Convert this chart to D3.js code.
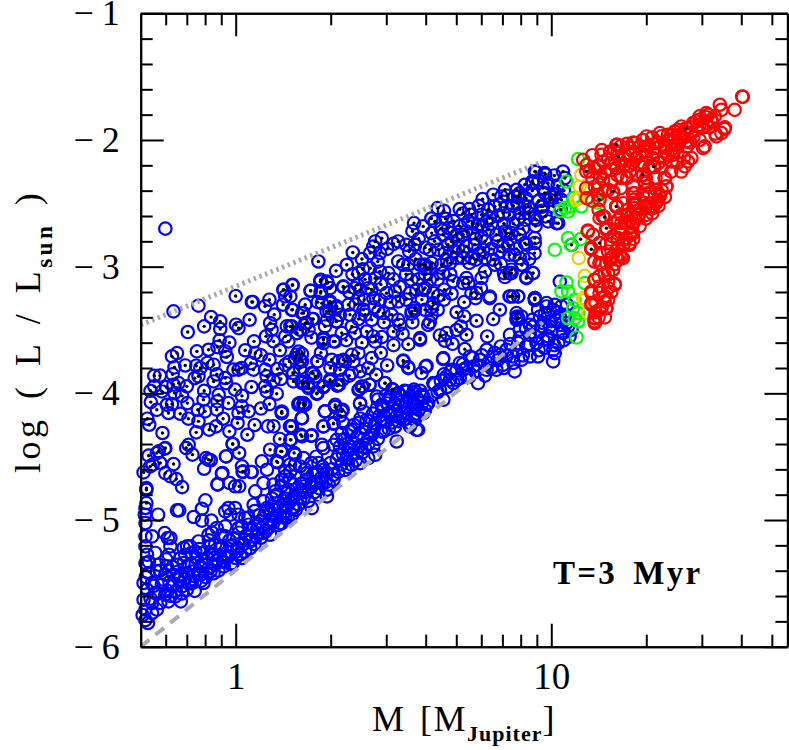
<!DOCTYPE html>
<html>
<head>
<meta charset="utf-8">
<script src="https://cdn.jsdelivr.net/npm/d3@7"></script>
<style>
  html, body { margin: 0; padding: 0; background: #fff; }
  svg { display: block; }
</style>
</head>
<body>
<div id="chart"></div>
<script>
// every point is [log10 M, log10 L]
const blueDotted = [
[0,-3.232],[-.152,-3.516],[-.1,-3.471],[-.078,-3.398],[-.049,-3.432],[-.049,-3.492],[.001,-3.458],[.009,-3.485],[.044,-3.419],[.051,-3.279],[.054,-3.279],[.107,-3.261],[.093,-3.313],[.122,-3.379],[.151,-3.182],[.157,-3.234],[.18,-3.148],[.18,-3.34],[.237,-3.19],[.269,-3.208],[.269,-3.103],[.291,-3.129],
[-.051,-3.582],[-.058,-3.635],[-.033,-3.669],[-.028,-3.713],[-.123,-3.669],[-.086,-3.656],[-.186,-3.682],[-.202,-3.708],[-.194,-3.795],[-.258,-3.861],[-.258,-3.945],[-.234,-3.985],[-.197,-3.932],[-.181,-3.919],[-.155,-3.945],[-.194,-3.998],[-.269,-4.069],[-.218,-4.09],[-.202,-4.085],[-.213,-4.155],[-.176,-4.161],[-.153,-4.077],[-.125,-3.782],[-.112,-3.8],[-.118,-3.866],[-.07,-3.774],[-.07,-3.906],[-.033,-3.879],[-.002,-3.971],[-.007,-3.813],[.009,-3.813],[.019,-3.8],[.056,-3.813],[.048,-3.761],[.062,-3.682],[.058,-3.59],[.093,-3.813],[.098,-3.866],[.093,-3.945],[.098,-3.985],[.107,-3.735],[.13,-4.003],[.132,-3.808],[.143,-3.887],[.109,-3.445],[.114,-3.498],[.096,-3.55],[.12,-3.59],[.162,-3.471],[.178,-3.471],[.167,-3.59],[.193,-3.524],[.215,-3.366],[.243,-3.413],[.225,-3.445],[.278,-3.577],[.31,-3.59],[.288,-3.353],[.299,-3.287],[.32,-3.313],[.341,-3.156],[.318,-3.432],[.336,-3.524],[.304,-3.735],[.341,-3.735],[.327,-3.932],[.299,-3.892],[.181,-3.84],[.204,-3.735],[.193,-3.695],[.215,-3.913],[.23,-3.945],[.246,-3.845],[.259,-3.748],[.278,-3.95],[.259,-3.998],[.215,-4.09],[.199,-4.09],[.146,-4.155],[.107,-4.085],[-.102,-4.05],[-.097,-4.142],[-.054,-4.011],[-.058,-4.063],[-.06,-4.129],[-.023,-4.077],[-.062,-4.261],[-.125,-4.308],[-.084,-4.287],[-.118,-4.221],[.009,-4.155],[.041,-4.142],[.006,-4.234],[.037,-4.327],[.019,-4.103],[-.232,-4.313],[-.274,-4.248],[-.009,-4.4],[.011,-4.471],[.023,-4.616],[-.149,-4.406],[-.157,-4.432],[-.086,-4.524],[-.197,-4.558],[-.239,-4.55],[-.223,-4.63],[-.207,-4.655],[-.188,-4.677],[-.17,-4.74],[-.271,-4.577],[-.244,-4.458],[-.223,-4.432],[-.283,-4.748],[.172,-4.261],[.175,-4.366],[.206,-4.327],[.241,-4.332],[.109,-4.445],[.143,-4.458],[.13,-4.537],[.172,-4.563],[.185,-4.471],
[-.137,-4.484],[-.094,-4.511],[-.079,-4.529],[-.01,-4.4],[.022,-4.621],[.011,-4.734],[.144,-4.458],[.133,-4.545],[-.225,-4.437],[-.25,-4.471],[-.276,-4.492],[-.263,-4.563],[-.292,-4.624],[-.283,-4.761],[-.283,-4.866],
[.146,-4.156],[.199,-4.082],[.215,-4.077],[.178,-4.261],[.21,-4.34],[.239,-4.335],[.173,-4.367],[.278,-4.261],[.31,-4.24],[.331,-4.177],[.339,-4.13],[.315,-4.109],[.257,-4.004],[.278,-3.946],[.322,-3.938],[.231,-3.959],[.21,-3.919],[.183,-3.906],[.392,-3.967],[.403,-3.946],[.424,-3.932],[.473,-3.919],[.496,-3.967],[.394,-4.082],[.146,-4.459],
[.262,-2.959],[.371,-2.888],[.318,-3.033],[.18,-3.143],[.152,-3.183],[.173,-3.235],[.238,-3.19],[.268,-3.117],[.289,-3.117],[.299,-3.17],[.27,-3.196],[.341,-3.162],[.352,-2.985],[.389,-3.051],[.403,-3.02],[.426,-3.012],[.442,-2.801],[.426,-2.893],[.457,-2.893],[.436,-2.841],[.463,-2.775],[.515,-2.801],[.54,-2.827],[.568,-2.827],[.484,-3.051],[.515,-2.959],[.531,-2.985],[.547,-2.985],[.595,-2.985],[.605,-3.012],[.442,-3.091],[.457,-3.038],[.386,-3.143],[.394,-3.183],[.42,-3.17],[.378,-3.17],[.273,-3.288],[.299,-3.275],[.32,-3.327],[.297,-3.354],[.357,-3.301],[.362,-3.38],[.389,-3.248],[.407,-3.262],[.436,-3.248],[.457,-3.262],[.478,-3.209],[.505,-3.196],[.515,-3.275],[.468,-3.367],[.494,-3.38],[.515,-3.42],[.452,-3.354],[.431,-3.42],[.389,-3.414],[.405,-3.341],[.368,-3.472],[.378,-3.525],[.415,-3.512],[.436,-3.551],[.463,-3.556],[.442,-3.591],[.5,-3.512],[.529,-3.53],[.547,-3.612],[.584,-3.577],[.558,-3.354],[.568,-3.327],[.595,-3.183],[.6,-3.341],[.552,-3.209],[.32,-3.433],[.283,-3.472],[.246,-3.414],[.22,-3.446],[.21,-3.367],[.178,-3.341],[.204,-3.498],[.231,-3.498],[.194,-3.525],[.173,-3.472],[.157,-3.551],[.278,-3.564],[.278,-3.604],[.315,-3.591],[.368,-3.696],[.389,-3.683],[.373,-3.748],[.347,-3.748],[.326,-3.748],[.431,-3.722],[.531,-3.741],[.547,-3.793],[.199,-3.67],[.21,-3.688],[.188,-3.722],[.21,-3.748],[.157,-3.775],[.183,-3.84],[.204,-3.801],[.259,-3.748],[.241,-3.84],[.252,-3.867],[.21,-3.906],[.229,-3.92],[.299,-3.906],[.322,-3.938],[.338,-3.893],[.278,-3.946],[.257,-3.998],[.331,-3.814],[.394,-3.827],[.445,-3.854],[.389,-3.972],[.399,-3.946],[.424,-3.932],[.473,-3.92],[.498,-3.972],[.394,-4.077],[.204,-4.077],[.22,-4.091],[.146,-4.143],[.315,-4.091],[.336,-4.143],[.31,-4.235],[.278,-4.261],
[.64,-2.538],[.71,-2.546],[.665,-2.622],[.631,-2.643],[.594,-2.682],[.565,-2.656],[.621,-2.735],[.568,-2.827],[.615,-2.867],[.642,-2.867],[.673,-2.696],[.679,-2.735],[.657,-2.748],[.684,-2.801],[.663,-2.893],[.673,-2.827],[.721,-2.748],[.705,-2.788],[.74,-2.546],[.747,-2.59],[.779,-2.59],[.782,-2.467],[.821,-2.524],[.837,-2.511],[.853,-2.393],[.89,-2.393],[.892,-2.498],[.858,-2.524],[.868,-2.59],[.816,-2.432],[.842,-2.446],[.895,-2.446],[.916,-2.524],[.9,-2.577],[.916,-2.63],[.948,-2.617],[.979,-2.419],[1.016,-2.424],[.94,-2.327],[.951,-2.253],[.981,-2.274],[.974,-2.524],[.982,-2.603],[1.016,-2.656],[1.006,-2.524],[.805,-2.617],[.795,-2.643],[.768,-2.669],[.737,-2.643],[.752,-2.735],[.779,-2.761],[.8,-2.709],[.826,-2.748],[.853,-2.722],[.874,-2.735],[.9,-2.748],[.921,-2.827],[.947,-2.775],[.947,-2.893],[.847,-2.84],[.863,-2.835],[.837,-2.88],[.868,-2.906],[.9,-2.932],[.705,-2.853],[.731,-2.84],[.758,-2.827],[.784,-2.867],[.7,-2.932],[.721,-2.932],[.747,-2.932],[.761,-2.945],[.79,-2.932],[.816,-2.945],[.821,-2.985],[.584,-2.985],[.6,-2.985],[.621,-2.972],[.615,-3.011],[.652,-2.985],[.679,-2.972],[.657,-3.051],[.79,-3.038],[.731,-3.09],[.737,-3.13],[.689,-3.116],[.721,-3.13],[.779,-3.09],[.777,-3.169],[.763,-3.209],[.747,-3.209],[.76,-3.248],[.724,-3.28],[.684,-3.214],[.661,-3.182],[.642,-3.23],[.626,-3.209],[.626,-3.288],[.621,-3.319],[.615,-3.103],[.6,-3.169],[.557,-3.103],[.573,-3.182],[.568,-3.346],[.557,-3.372],[.615,-3.44],[.621,-3.38],[.724,-3.393],[.763,-3.427],[.816,-3.414],[.713,-3.472],[.731,-3.538],[.797,-3.551],[.868,-3.051],[.85,-3.051],[.874,-3.024],[.853,-3.082],[.907,-2.985],[.921,-3.082],[.942,-3.051],[.868,-3.235],[.895,-3.235],[.89,-3.367],[.895,-3.406],[.948,-3.248],[.668,-3.524],[.647,-3.543],[.584,-3.564],[.663,-3.585],[.687,-3.609],[.726,-3.651],
[.979,-2.262],[.948,-2.249],[1.037,-2.249],[1.043,-2.301],[.916,-2.354],[.942,-2.341],[.974,-2.38],[1.011,-2.433],[.995,-2.472],[.884,-2.446],[.927,-2.525],[.953,-2.63],[.99,-2.643],[1.022,-2.657],[.969,-2.525],[1.032,-2.472],[.848,-2.578],[.858,-2.736],[.895,-2.63],[.916,-2.814],[.948,-2.814],[.884,-2.907],[.906,-2.986],[.942,-3.051],[.921,-3.091],[.874,-3.051],[1.064,-2.828],
[.879,-3.236],[.948,-3.262],[.89,-3.407],[.892,-3.393],[.948,-3.248],[.869,-3.235],[.895,-3.235],[.837,-3.34],[.531,-3.748],[.547,-3.801],[.589,-3.84]
];
const blueDottedCloud = [
[.56,-2.72],[.58,-2.78],[.6,-2.85],[.62,-2.62],[.63,-2.8],[.65,-2.7],[.66,-2.56],[.67,-2.95],[.69,-2.64],[.69,-2.88],[.7,-2.75],[.71,-2.68],[.72,-2.58],[.72,-2.88],[.73,-2.72],[.74,-2.97],[.75,-2.66],[.76,-2.78],[.77,-2.52],[.77,-2.9],[.78,-2.68],[.79,-2.8],[.8,-2.55],[.81,-2.66],[.81,-2.86],[.83,-2.6],[.83,-2.8],[.84,-2.98],[.85,-2.66],[.86,-2.44],[.87,-2.78],[.88,-2.52],[.88,-2.66],[.89,-2.86],[.9,-2.42],[.91,-2.7],[.92,-2.46],[.93,-2.58],[.93,-2.94],[.94,-2.4],[.95,-2.68],[.96,-2.48],[.96,-2.32],[.97,-2.56],[.99,-2.34],[1,-2.45],[1.01,-2.28],[1.02,-2.36],[1.03,-2.55],[1.04,-2.4],
[.36,-3.2],[.37,-3.06],[.38,-3.3],[.4,-2.94],[.41,-3.1],[.41,-3.38],[.43,-3.18],[.44,-3.32],[.45,-2.96],[.46,-3.14],[.47,-3.44],[.48,-2.86],[.49,-3.28],[.5,-3.1],[.5,-2.82],[.52,-3.16],[.52,-3.46],[.54,-3.06],[.54,-3.26],[.55,-2.88],[.56,-3.44],[.57,-2.94],[.58,-3.1],[.59,-3.26],[.6,-3.06],[.61,-3.46],[.64,-3.1],[.64,-3.34],[.66,-3.26],[.68,-3.06],[.7,-3.36],[.7,-3.5],
[.22,-3.3],[.24,-3.56],[.26,-3.28],[.27,-3.68],[.29,-3.42],[.3,-3.8],[.33,-3.38],[.35,-3.58],[.36,-3.86],[.4,-3.6],[.42,-3.8],[.46,-3.68],[.48,-3.78],[.5,-3.62],[.14,-3.66],[.15,-3.3],[.17,-3.75],[.12,-3.9],[.08,-3.7],[.05,-3.95],[.03,-3.66],[.02,-4.02],[-.02,-3.6],[-.03,-3.92],[-.06,-3.85],[-.09,-3.76],[-.1,-3.98],[-.13,-3.88],[-.16,-3.78],[-.17,-4.02],[-.2,-3.85],[-.22,-3.95],[-.24,-3.86],[-.27,-3.98],[-.28,-4.2],[-.25,-4.13],[-.15,-4.2],[-.12,-4.13],[-.04,-4.2],[-.02,-4.3],[.06,-4.25],[.08,-4.12],[.12,-4.26],[.14,-4.36]
];
const bluePlain = [
[-.197,-3.353],[-.118,-3.308],[-.223,-2.7],[.102,-4.261],[-.031,-4.498],[-.1,-4.595],[-.044,-4.635],[-.058,-4.716],[.049,-4.621],[.209,-4.195],[.283,-4.142],
[-.03,-4.498],[-.042,-4.629],[-.057,-4.721],[-.019,-4.708],[-.002,-4.734],[.02,-4.576],[.051,-4.621],[.062,-4.774],[-.096,-4.845],[-.107,-4.911],[-.186,-4.924],[-.179,-4.924],[-.246,-4.958],[-.286,-4.905],[-.288,-4.958],[-.286,-5.024],[-.133,-4.976],[-.107,-5.005],[-.077,-5.005],[-.225,-5.103],[-.207,-5.142],[-.215,-5.142],[-.265,-5.129],[-.286,-5.129],[-.286,-5.208],[-.207,-5.208],[-.212,-5.274],[-.281,-5.274],[-.286,-5.34],
[-.278,-5.813],[-.286,-5.79],[-.265,-5.734],[-.25,-5.708],[-.286,-5.708],[-.292,-5.629],[-.265,-5.655],[-.239,-5.655],[-.213,-5.642],[-.174,-5.642],[-.191,-5.603],[-.223,-5.589],[-.255,-5.576],[-.281,-5.55],[-.292,-5.497],[-.265,-5.497],[-.234,-5.511],[-.202,-5.524],[-.17,-5.524],[-.149,-5.497],[-.128,-5.484],[-.102,-5.497],[-.276,-5.419],[-.25,-5.405],[-.223,-5.432],[-.197,-5.432],[-.176,-5.445],[-.154,-5.419],[-.133,-5.405],[-.112,-5.432],[-.08,-5.405],[-.244,-5.353],[-.218,-5.366],[-.186,-5.353],[-.165,-5.34],[-.139,-5.353],[-.112,-5.366],[-.097,-5.326],[-.065,-5.353],[-.038,-5.366],[-.01,-5.34],[-.16,-5.274],[-.144,-5.208],[-.118,-5.169],[-.154,-5.208],[-.128,-5.248],[-.102,-5.261],[-.081,-5.208],[-.07,-5.274],[-.049,-5.287],[-.023,-5.287],[.004,-5.248],[.02,-5.3],[.046,-5.221],[-.044,-5.208],[-.017,-5.208],[-.033,-5.129],[-.007,-5.142],[.03,-5.155],[.051,-5.155],[-.086,-5.116],[-.06,-5.063],[-.033,-5.05],[.009,-5.063],[.041,-5.037],[.067,-5.076],[.088,-5.103],[.109,-5.116],[.078,-5.011],[.114,-4.998],[.141,-5.024],[-.023,-4.905],[-.002,-4.905],[-.033,-4.932],[-.017,-4.958],[.009,-4.958],[.03,-4.984],[.057,-4.879],[.088,-4.853],[.099,-4.905],[.114,-4.892],[.136,-4.866],[.088,-4.708],[.125,-4.774],[.167,-4.761],[.178,-4.84],[.199,-4.879],[.157,-4.932],[.178,-4.958],[.21,-4.761],[.146,-4.682],[.099,-4.603],[.083,-4.537],[.157,-4.616],[.188,-4.563],
[.278,-4.432],[.273,-4.406],[.21,-4.196],[.283,-4.143],[.341,-4.235],[.215,-4.511],[.188,-4.485],[.204,-4.577],[.173,-4.617],[.157,-4.656],[.262,-4.551],[.278,-4.604],[.252,-4.63],[.225,-4.63],[.241,-4.709],[.215,-4.735],[.273,-4.709],[.289,-4.761],[.289,-4.814],[.262,-4.801],[.241,-4.906],[.215,-4.827],[.188,-4.801],[.162,-4.788],[.152,-4.88],[.183,-4.906],[.157,-4.985],[.146,-5.024],[.31,-4.643],[.347,-4.604],[.368,-4.564],[.394,-4.551],[.42,-4.511],[.442,-4.485],[.436,-4.419],[.41,-4.432],[.384,-4.472],[.357,-4.446],[.326,-4.485],[.3,-4.551],[.32,-4.367],[.341,-4.367],[.368,-4.38],[.31,-4.406],[.336,-4.314],[.368,-4.288],[.394,-4.314],[.42,-4.354],[.389,-4.235],[.415,-4.209],[.405,-4.143],[.447,-4.117],[.463,-4.09],[.447,-4.025],[.489,-4.025],[.515,-3.998],[.542,-3.985],[.563,-3.998],[.589,-4.011],[.605,-4.09],[.595,-4.156],[.568,-4.182],[.537,-4.104],[.505,-4.09],[.489,-4.156],[.51,-4.182],[.478,-4.222],[.505,-4.261],[.531,-4.209],[.463,-4.209],[.442,-4.235],[.468,-4.301],[.51,-4.38],[.573,-4.288],[.552,-4.261],[.436,-4.301],
[.658,-3.722],[.658,-4.051],[.668,-3.867],[.684,-3.814],[.7,-3.893],[.721,-3.814],[.742,-3.709],[.774,-3.735],[.768,-3.919],[.753,-3.788],[.731,-3.867],[.795,-3.814],[.826,-3.814],[.847,-3.775],[.884,-3.827],[.816,-3.709],[.795,-3.656],[.837,-3.696],[.858,-3.656],[.879,-3.709],[.905,-3.735],[.932,-3.709],[.958,-3.709],[1.006,-3.748],[1.011,-3.683],[.979,-3.643],[1.022,-3.604],[.99,-3.577],[.953,-3.604],[.921,-3.63],[.895,-3.604],[.869,-3.538],[.9,-3.498],[.932,-3.538],[.964,-3.511],[1,-3.511],[1.037,-3.511],[1.064,-3.498],[.89,-3.419],[.948,-3.261],[.985,-3.288],[1.011,-3.301],[1.032,-3.314],[.958,-3.34],[.99,-3.367],[1.016,-3.419],[1.048,-3.446],[.974,-3.446],[.932,-3.459],[.905,-3.393],[.805,-3.248],[.605,-3.783],[.489,-4.051],[.515,-4],[.542,-3.985],[.568,-3.985],[.594,-4.025],[.61,-4.077],[.568,-4.104],[.52,-4.104],[.484,-4.156],[.52,-4.183],[.568,-4.209],[.542,-4.156],[.578,-4.288],[.505,-4.262],[.468,-4.104],[.626,-3.919],[.647,-3.972],[.679,-3.893],[.71,-3.761],
[.368,-3.84],[.283,-4.143],[.21,-4.196],[.805,-3.235],[.657,-3.73],[.602,-3.788],
[1.027,-3.117],[.985,-3.314],[1.006,-3.341],[1.027,-3.394],[1.058,-3.552],[.964,-3.394],[.942,-3.473],[.995,-3.473],[1.037,-3.525],[.974,-3.578],[1.006,-3.657],[1.053,-3.473]
];
// the crowded band just above the dashed line
const blueBand = [
[-.295,-5.75],[-.27,-5.62],[-.285,-5.45],[-.26,-5.52],[-.245,-5.58],[-.23,-5.47],[-.275,-5.33],[-.255,-5.26],[-.215,-5.56],[-.205,-5.6],[-.24,-5.4],[-.22,-5.31],[-.2,-5.37],[-.21,-5.49],
[-.19,-5.56],[-.18,-5.47],[-.185,-5.41],[-.17,-5.58],[-.16,-5.46],[-.155,-5.55],[-.15,-5.36],[-.14,-5.5],[-.135,-5.44],[-.13,-5.56],[-.125,-5.3],[-.12,-5.42],[-.11,-5.48],[-.105,-5.35],[-.175,-5.3],[-.165,-5.22],[-.14,-5.26],[-.115,-5.23],
[-.095,-5.45],[-.09,-5.3],[-.085,-5.38],[-.075,-5.27],[-.07,-5.42],[-.06,-5.32],[-.055,-5.4],[-.05,-5.23],[-.04,-5.33],[-.03,-5.3],[-.025,-5.25],[-.015,-5.35],[-.01,-5.2],[0,-5.3],[-.085,-5.16],[-.065,-5.19],[-.045,-5.12],[-.02,-5.16],[.01,-5.1],[-.075,-5.1],
[.005,-5.22],[.015,-5.27],[.025,-5.19],[.03,-5.25],[.035,-5.12],[.045,-5.17],[.05,-5.08],[.06,-5.19],[.065,-5.13],[.07,-5.03],[.08,-5.14],[.085,-5.06],[.09,-4.97],[.095,-5.09],[.1,-5.03],[.02,-5.05],[.04,-4.98],[.06,-4.93],[.075,-4.96],[.095,-4.93],
[.105,-5.06],[.11,-4.95],[.12,-5.02],[.125,-4.92],[.13,-4.98],[.135,-5.04],[.14,-4.9],[.15,-4.97],[.155,-4.83],[.16,-4.9],[.165,-4.98],[.17,-4.86],[.18,-4.9],[.185,-4.82],[.19,-4.92],[.195,-4.75],[.115,-4.83],[.13,-4.8],[.145,-4.73],[.17,-4.68],[.185,-4.72],[.12,-4.72],
[.205,-4.83],[.21,-4.71],[.22,-4.78],[.225,-4.68],[.23,-4.85],[.24,-4.74],[.245,-4.64],[.25,-4.78],[.255,-4.7],[.26,-4.62],[.265,-4.75],[.27,-4.67],[.275,-4.58],[.285,-4.7],[.29,-4.63],[.295,-4.72],[.22,-4.6],[.24,-4.55],[.255,-4.5],
[.305,-4.6],[.31,-4.68],[.32,-4.52],[.325,-4.62],[.335,-4.56],[.34,-4.48],[.35,-4.52],[.355,-4.58],[.36,-4.42],[.37,-4.48],[.375,-4.4],[.38,-4.53],[.385,-4.34],[.39,-4.42],[.4,-4.47],[.33,-4.42],[.345,-4.36],[.36,-4.3],[.375,-4.25],[.395,-4.2],
[.405,-4.36],[.41,-4.28],[.42,-4.4],[.425,-4.22],[.43,-4.33],[.435,-4.16],[.44,-4.26],[.45,-4.36],[.455,-4.18],[.46,-4.3],[.465,-4.12],[.47,-4.22],[.48,-4.08],[.485,-4.28],[.49,-4.15],[.495,-4.23],[.45,-4.05],[.475,-4.02],
[.505,-4.14],[.51,-4.04],[.515,-4.22],[.52,-4.01],[.525,-4.15],[.53,-4.06],[.535,-3.98],[.54,-4.2],[.545,-4.12],[.55,-4.03],[.555,-4.24],[.56,-4.08],[.565,-3.97],[.57,-4.16],[.575,-4.04],[.58,-4.13],[.585,-3.98],[.59,-4.08],[.595,-4.03],[.6,-4.13],
[.62,-4.02],[.63,-3.93],[.64,-3.99],[.65,-3.9],[.66,-3.85],[.67,-3.95],[.68,-3.83],[.69,-3.92],[.7,-3.82],[.71,-3.88],[.72,-3.77],[.73,-3.8],[.74,-3.87],[.75,-3.72],[.76,-3.83],[.77,-3.78],[.78,-3.7],[.79,-3.86],[.8,-3.76],[.81,-3.8],
[.82,-3.68],[.83,-3.74],[.84,-3.63],[.85,-3.8],[.86,-3.7],[.87,-3.61],[.88,-3.76],[.89,-3.66],[.9,-3.56],[.91,-3.7],[.92,-3.49],[.93,-3.61],[.94,-3.42],[.95,-3.55],[.96,-3.66],[.97,-3.47],[.98,-3.37],[.99,-3.55],[1,-3.43],[1.01,-3.62],[1.02,-3.36],[1.03,-3.46],[1.04,-3.58],[1.045,-3.38],[1.05,-3.3]
];
const greenDotted = [[1.093,-2.783]];
const greenPlain = [
[1.085,-2.151],[1.048,-2.328],[1.071,-2.459],[1.095,-2.525],[1.148,-2.494],[1.027,-2.559],[1.053,-2.565],[1.043,-2.538],[1.059,-2.525],[1.011,-2.867],[1.053,-2.775],[1.062,-2.828],[1.048,-3.125],[1.032,-3.196],[1.053,-3.196],[1.074,-3.262],[1.069,-3.328],[1.085,-3.367],[1.053,-3.407],[1.074,-3.407],[1.085,-3.433],[1.08,-3.559],[1.127,-3.288],[1.117,-3.367],[1.106,-3.13]
];
const yellowPlain = [
[1.095,-2.275],[1.09,-2.367],[1.08,-2.472],[1.111,-2.459],[1.116,-2.394],[1.087,-2.933],[1.106,-3.072],[1.101,-3.249],[1.106,-3.262],[1.138,-3.407],[1.117,-3.367],[1.088,-2.46]
];
const redDotted = [
[1.206,-2.038],[1.211,-2.13],[1.29,-2.275],[1.324,-2.209],[1.196,-2.407],[1.206,-2.525],[1.169,-2.609],[1.175,-2.696],[1.127,-2.862],[1.153,-2.814],[1.428,-1.907],[1.111,-2.249],[1.153,-2.472]
];
const redPlain = [
[1.116,-2.714],[1.153,-2.617],[1.174,-2.696],[1.206,-2.525],[1.132,-2.748],[1.127,-2.854],[1.153,-2.814],[1.137,-2.959],[1.153,-2.972],[1.18,-2.88],[1.195,-2.919],[1.216,-2.906],[1.227,-2.933],[1.195,-3.025],[1.169,-3.064],[1.201,-3.143],[1.137,-3.104],[1.18,-3.169],[1.169,-3.235],[1.153,-3.209],[1.127,-3.209],[1.174,-3.327],[1.169,-3.275],[1.127,-3.301],[1.153,-3.34],[1.137,-3.406],[1.137,-3.433],[1.195,-2.761],[1.211,-2.788],[1.248,-2.814],[1.222,-2.656],[1.243,-2.656],[1.264,-2.617],[1.28,-2.551],[1.311,-2.538],[1.332,-2.498],[1.296,-2.498],[1.264,-2.498],[1.222,-2.59],[1.253,-2.722],[1.164,-2.603],[1.211,-2.946],[1.185,-2.946],[1.232,-2.788],[1.153,-2.893],[1.264,-2.538],[1.243,-2.551],
[1.605,-1.657],[1.607,-1.66],[1.581,-1.762],[1.534,-1.722],[1.539,-1.762],[1.549,-1.914],[1.539,-1.946],[1.523,-1.972],[1.481,-2.064],[1.486,-2.05],[1.491,-1.788],[1.47,-1.814],[1.507,-1.841],[1.449,-1.867],[1.428,-1.907],[1.412,-1.893],[1.391,-1.933],[1.386,-2.012],[1.344,-1.946],[1.302,-1.972],[1.333,-2.025],[1.36,-2.038],[1.444,-2.143],[1.433,-2.17],[1.412,-2.249],[1.423,-2.209],[1.381,-2.17],[1.36,-2.143],[1.328,-2.214],[1.291,-2.275],[1.36,-2.301],[1.365,-2.367],[1.328,-2.42],[1.307,-2.367],[1.265,-2.42],[1.259,-2.472],[1.209,-2.038],[1.209,-2.104],[1.159,-2.117],[1.164,-2.17],[1.186,-2.091],[1.101,-2.157],[1.112,-2.196],[1.122,-2.249],[1.138,-2.222],[1.154,-2.288],[1.191,-2.236],[1.207,-2.222],[1.222,-2.301],[1.249,-2.249],[1.233,-2.117],[1.259,-2.091],[1.28,-2.117],[1.302,-2.091],[1.322,-2.143],[1.259,-2.183],[1.291,-2.183],[1.307,-2.051],[1.328,-2.064],[1.36,-2.091],[1.381,-2.078],[1.402,-2.038],[1.418,-1.986],[1.444,-1.946],[1.47,-1.88],[1.491,-1.867],[1.37,-1.959],[1.391,-1.986],[1.428,-2.012],[1.265,-2.025],[1.249,-2.064],[1.191,-2.183],[1.233,-2.196],[1.217,-2.157],[1.154,-2.209],[1.164,-2.314],[1.138,-2.367],[1.112,-2.459],[1.149,-2.433],[1.196,-2.42],[1.18,-2.393],[1.207,-2.52],[1.228,-2.499],[1.296,-2.328],[1.344,-2.433],[1.333,-2.486],[1.317,-2.525],[1.386,-2.117],[1.46,-1.854],[1.518,-1.814],[1.497,-1.801],[1.407,-1.959],
[1.259,-2.42],[1.259,-2.499],[1.254,-2.591],[1.208,-2.525],[1.164,-2.604],[1.175,-2.709],[1.211,-2.631],[1.233,-2.657],[1.254,-2.683],[1.275,-2.617],[1.301,-2.591],[1.322,-2.538],[1.343,-2.446],[1.364,-2.367],[1.359,-2.301],[1.338,-2.472],[1.333,-2.394],[1.296,-2.341],[1.259,-2.736],[1.238,-2.775],[1.248,-2.828],[1.211,-2.775],[1.222,-2.736],[1.206,-2.92],[1.222,-2.92],[1.196,-3.025],[1.201,-3.136],[1.175,-2.972],[1.185,-2.946],[1.153,-2.972],[1.138,-3.104],[1.127,-2.854],[1.116,-2.723],[1.175,-2.814],[1.18,-3.262],[1.175,-3.328],[1.127,-3.196],[1.127,-3.288],[1.138,-3.407],[1.138,-3.446],[1.17,-3.236],[1.153,-3.157],
[1.2,-2.08],[1.22,-2.05],[1.23,-2.15],[1.24,-2.03],[1.25,-2.12],[1.25,-2.2],[1.26,-2.02],[1.27,-2.14],[1.28,-2.05],[1.28,-2.2],[1.29,-2],[1.3,-2.12],[1.31,-2.04],[1.31,-2.22],[1.32,-1.98],[1.33,-2.1],[1.34,-2.02],[1.34,-2.18],[1.35,-1.97],[1.36,-2.06],[1.37,-2],[1.37,-2.12],[1.38,-1.96],[1.39,-2.04],[1.4,-1.92],[1.4,-2.1],[1.41,-1.99],[1.42,-1.94],[1.43,-2.05],[1.44,-1.9],[1.45,-1.98],[1.46,-1.92],[1.47,-1.84],[1.48,-1.9],[1.49,-1.82],[1.5,-1.9],[1.51,-1.86],[1.44,-2.02],[1.47,-2],[1.52,-1.95],[1.55,-1.9],
[1.13,-2.12],[1.15,-2.2],[1.16,-2.08],[1.17,-2.25],[1.18,-2.15],[1.2,-2.2],[1.21,-2.28],[1.15,-2.35],[1.17,-2.4],[1.19,-2.33],[1.22,-2.38],[1.24,-2.3],[1.26,-2.36],[1.13,-2.3],[1.11,-2.38],[1.13,-2.48],[1.15,-2.55],[1.27,-2.28],[1.3,-2.3],[1.33,-2.3],[1.35,-2.22],[1.38,-2.25],[1.4,-2.18],[1.42,-2.14],
[1.27,-2.5],[1.29,-2.44],[1.3,-2.52],[1.31,-2.42],[1.33,-2.5],[1.35,-2.4],[1.36,-2.45],[1.28,-2.58],[1.26,-2.66],[1.24,-2.6],[1.22,-2.7],[1.2,-2.66],[1.23,-2.82],[1.21,-2.86],[1.19,-2.82],[1.18,-3.05],[1.16,-2.98],[1.2,-2.98],[1.18,-3.12],[1.15,-3.08],[1.14,-3.28],[1.16,-3.32],[1.19,-3.2],[1.15,-3.4],[1.17,-3.4],[1.14,-3.36],[1.26,-2.78],[1.25,-2.74],[1.28,-2.68],[1.3,-2.62],[1.32,-2.58],[1.34,-2.52]
];

// two grey limit lines, end points as [M, log L]
const dashedLine = [[0.5, -6], [9.4, -3.44]];
const dottedLine = [[0.5, -3.46], [9.4, -2.17]];

const xMajor = [1, 10];
const xMinor = [0.6, 0.7, 0.8, 0.9, 2, 3, 4, 5, 6, 7, 8, 9, 20, 30, 40, 50];
const yMajor = [-1, -2, -3, -4, -5, -6];
const yMinor = [-1.2, -1.4, -1.6, -1.8, -2.2, -2.4, -2.6, -2.8, -3.2, -3.4, -3.6, -3.8, -4.2, -4.4, -4.6, -4.8, -5.2, -5.4, -5.6, -5.8];

const WIDTH = 789;
const HEIGHT = 750;
const FRAME = { left: 140.7, right: 787.4, top: 13.3, bottom: 646.7 };
const MAJOR_TICK = 23;
const MINOR_TICK = 12;
const SERIF = '"Liberation Serif", serif';
const RING_R = 6.2;

const xScale = d3.scaleLog().domain([0.5, 56]).range([FRAME.left, FRAME.right]);
const yScale = d3.scaleLinear().domain([-6, -1]).range([FRAME.bottom, FRAME.top]);

const svg = d3.select('#chart').append('svg')
  .attr('width', WIDTH)
  .attr('height', HEIGHT);

function px(d) { return xScale(Math.pow(10, d[0])); }
function py(d) { return yScale(d[1]); }

function drawRings(rows, color) {
  svg.append('g').selectAll('circle').data(rows).join('circle')
    .attr('cx', px)
    .attr('cy', py)
    .attr('r', RING_R)
    .attr('fill', 'none')
    .attr('stroke', color)
    .attr('stroke-width', 2.2);
}

const allBlueDotted = blueDotted.concat(blueDottedCloud);

drawRings(bluePlain.concat(blueBand, allBlueDotted), '#0000ff');
drawRings(greenPlain.concat(greenDotted), '#00ff00');
drawRings(yellowPlain, '#f2cc00');
drawRings(redPlain.concat(redDotted), '#ff0000');

svg.append('g').selectAll('circle')
  .data(allBlueDotted.concat(greenDotted, redDotted)).join('circle')
  .attr('cx', px)
  .attr('cy', py)
  .attr('r', 1.7)
  .attr('fill', '#000');

const limitLine = d3.line().x((d) => xScale(d[0])).y((d) => yScale(d[1]));

svg.append('path')
  .attr('d', limitLine(dashedLine))
  .attr('fill', 'none')
  .attr('stroke', '#aaaaaa')
  .attr('stroke-width', 4)
  .attr('stroke-dasharray', '11,8');

svg.append('path')
  .attr('d', limitLine(dottedLine))
  .attr('fill', 'none')
  .attr('stroke', '#aaaaaa')
  .attr('stroke-width', 5)
  .attr('stroke-dasharray', '2.5,3.6');

// frame and ticks: all four sides, ticks pointing inwards
function drawAxis(axisFn, scale, values, size, translate, labels, padding) {
  const axis = axisFn(scale)
    .tickValues(values)
    .tickSizeInner(-size)
    .tickSizeOuter(0)
    .tickPadding(padding || 0)
    .tickFormat(labels || (() => ''));
  const g = svg.append('g')
    .attr('transform', translate)
    .call(axis);
  g.selectAll('path').attr('stroke', '#000').attr('stroke-width', 2);
  g.selectAll('line').attr('stroke', '#000').attr('stroke-width', 2);
  return g;
}

const bottomAt = `translate(0,${FRAME.bottom})`;
const topAt = `translate(0,${FRAME.top})`;
const leftAt = `translate(${FRAME.left},0)`;
const rightAt = `translate(${FRAME.right},0)`;

drawAxis(d3.axisTop, xScale, xMinor, MINOR_TICK, topAt);
drawAxis(d3.axisTop, xScale, xMajor, MAJOR_TICK, topAt);
drawAxis(d3.axisRight, yScale, yMinor, MINOR_TICK, rightAt);
drawAxis(d3.axisRight, yScale, yMajor, MAJOR_TICK, rightAt);
drawAxis(d3.axisBottom, xScale, xMinor, MINOR_TICK, bottomAt);
drawAxis(d3.axisLeft, yScale, yMinor, MINOR_TICK, leftAt);

drawAxis(d3.axisBottom, xScale, xMajor, MAJOR_TICK, bottomAt, (d) => String(d), 16)
  .selectAll('text')
  .attr('font-family', SERIF)
  .attr('font-size', 37)
  .attr('fill', '#000');

drawAxis(d3.axisLeft, yScale, yMajor, MAJOR_TICK, leftAt, (d) => '\u2212' + Math.abs(d), 13)
  .selectAll('text')
  .attr('font-family', SERIF)
  .attr('font-size', 36)
  .attr('fill', '#000')
  .attr('letter-spacing', 8);

const xLabel = svg.append('text')
  .attr('x', 372)
  .attr('y', 731)
  .attr('font-family', SERIF)
  .attr('font-size', 36)
  .attr('letter-spacing', 1.5)
  .attr('word-spacing', 4);
xLabel.append('tspan').text('M [M');
xLabel.append('tspan').attr('dy', 10).attr('font-size', 22).attr('font-weight', 'bold').attr('letter-spacing', 1).text('Jupiter');
xLabel.append('tspan').attr('dy', -10).text(']');

const yLabel = svg.append('text')
  .attr('transform', 'translate(40,473) rotate(-90)')
  .attr('font-family', SERIF)
  .attr('font-size', 36)
  .attr('letter-spacing', 3.5)
  .attr('word-spacing', 5);
yLabel.append('tspan').text('log ( L / L');
yLabel.append('tspan').attr('dy', 12).attr('font-size', 23).attr('font-weight', 'bold').text('sun');
yLabel.append('tspan').attr('dy', -12).text(' )');

svg.append('text')
  .attr('x', 553)
  .attr('y', 584)
  .attr('font-family', SERIF)
  .attr('font-size', 33)
  .attr('font-weight', 'bold')
  .attr('letter-spacing', 2.2)
  .attr('word-spacing', 6)
  .text('T=3 Myr');
</script>
</body>
</html>
